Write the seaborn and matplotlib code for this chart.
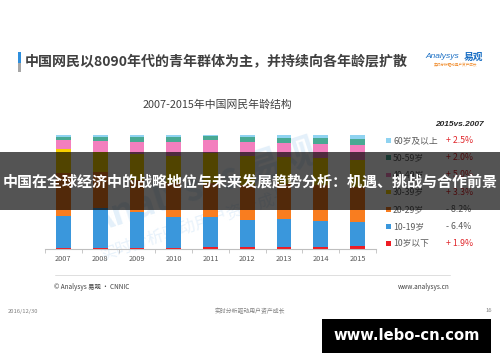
import pandas as pd
import seaborn as sns
import matplotlib.pyplot as plt
from matplotlib.patches import Rectangle

# CNNIC internet users by age group, share (%) per year
years = ['2007', '2008', '2009', '2010', '2011', '2012', '2013', '2014', '2015']
groups = ['10岁以下', '10-19岁', '20-29岁', '30-39岁', '40-49岁', '50-59岁', '60岁及以上']
under10 = [0.8, 0.6, 0.9, 1.1, 1.7, 1.7, 1.9, 1.7, 2.7]
age10_19 = [27.8, 35.2, 31.8, 27.3, 26.7, 24.0, 24.1, 22.8, 21.4]
age20_29 = [38.1, 31.5, 28.6, 29.8, 29.8, 30.4, 31.2, 31.5, 29.9]
age30_39 = [20.5, 17.6, 22.8, 23.4, 25.7, 25.3, 23.9, 23.8, 23.8]
age40_49 = [8.1, 9.6, 10.7, 12.6, 11.4, 12.4, 12.1, 12.3, 13.1]
age50_59 = [3.2, 3.6, 4.0, 3.9, 3.4, 4.4, 4.5, 5.0, 5.2]
age60_up = [1.4, 1.9, 1.9, 1.9, 1.3, 1.9, 2.4, 2.8, 3.9]
colors = ['#ee1c24', '#3a97dc', '#f97d1f', '#f6d000', '#f37fbe', '#49a993', '#8fd3f1']

df = pd.DataFrame(dict(zip(groups, [under10, age10_19, age20_29, age30_39,
                                    age40_49, age50_59, age60_up])), index=years)
share = df.div(df.sum(axis=1), axis=0) * 100
cum = share.cumsum(axis=1)

sns.set_theme(style='white')
plt.rcParams['font.family'] = ['Noto Sans CJK SC', 'DejaVu Sans']

W, H = 500, 362
fig = plt.figure(figsize=(5, 3.62), dpi=100)
fx = lambda px: px / W
fy = lambda py: 1 - py / H

ax = fig.add_axes([fx(45), fy(249), fx(376) - fx(45), fy(135) - fy(249)])

# faint watermark behind bars
ax.text(3.8, 55, 'Analysys 易观', color='#e4f0fa', fontsize=26, rotation=18,
        ha='center', va='center', fontweight='bold', zorder=0)
ax.text(3.6, 22, '实时分析驱动用户资产成长', color='#e8f2fb', fontsize=12, rotation=18,
        ha='center', va='center', zorder=0)

# stacked bars: draw cumulative totals from the top layer down
for g, c in reversed(list(zip(groups, colors))):
    sns.barplot(x=cum.index, y=cum[g].values, color=c, saturation=1,
                width=0.4, linewidth=0, errorbar=None, ax=ax)

ax.set_xlim(-0.5, len(years) - 0.5)
ax.set_ylim(0, 100)
for s in ['left', 'right', 'top']:
    ax.spines[s].set_visible(False)
ax.spines['bottom'].set_color('#bfbfbf')
ax.spines['bottom'].set_linewidth(0.8)
ax.set_yticks([])
ax.set_xlabel('')
ax.set_ylabel('')
ax.set_xticks(range(len(years)))
ax.set_xticks([i - 0.5 for i in range(len(years) + 1)], minor=True)
ax.tick_params(axis='x', which='major', length=0, labelsize=5.3,
               labelcolor='#595959', pad=4)
ax.tick_params(axis='x', which='minor', length=3, color='#bfbfbf', width=0.6,
               direction='out', bottom=True)

# header
fig.add_artist(Rectangle((fx(18), fy(63)), fx(2.5), fy(52) - fy(63),
                         color='#2f8fdd', lw=0))
fig.add_artist(Rectangle((fx(18), fy(72)), fx(2.5), fy(63) - fy(72),
                         color='#a6a6a6', lw=0))
fig.text(fx(25), fy(62), '中国网民以8090年代的青年群体为主，并持续向各年龄层扩散',
         fontsize=10.1, fontweight='bold', color='#404040', va='center')
fig.text(fx(425), fy(57), 'Analysys', fontsize=6, style='italic', color='#1a6fc4',
         va='center', family=['Liberation Sans', 'DejaVu Sans'])
fig.text(fx(464), fy(57), '易观', fontsize=7, fontweight='bold', color='#1a6fc4',
         va='center')
fig.text(fx(455), fy(65.5), '实时分析驱动用户资产成长', fontsize=2.6, color='#f08c2c',
         va='center', ha='center')

fig.text(fx(217), fy(105), '2007-2015年中国网民年龄结构', fontsize=7.8,
         color='#404040', ha='center', va='center')
fig.text(fx(459), fy(124), '2015vs.2007', fontsize=6, fontweight='bold',
         style='italic', color='#262626', ha='center', va='center',
         family=['Liberation Sans', 'DejaVu Sans'])

# legend with change column
change = (df.loc['2015'] - df.loc['2007']).round(1)
for i, (g, c) in enumerate(reversed(list(zip(groups, colors)))):
    y = 140.5 + i * 17.2
    fig.add_artist(Rectangle((fx(386), fy(y + 2.3)), fx(4.6), fy(y - 2.3) - fy(y + 2.3),
                             color=c, lw=0))
    fig.text(fx(393), fy(y), g, fontsize=6.3, color='#595959', va='center')
    d = change[g]
    txt = ('+ ' if d > 0 else '- ') + f'{abs(d):.1f}%'
    fig.text(fx(446), fy(y), txt, fontsize=6.3, va='center',
             color='#e0262b' if d > 0 else '#595959')

# footer
fig.add_artist(plt.Line2D([fx(55), fx(450)], [fy(275), fy(275)],
                          color='#d9d9d9', lw=0.6))
fig.text(fx(54), fy(287), '© Analysys 易观 · CNNIC', fontsize=4.6, color='#404040',
         va='center')
fig.text(fx(450), fy(287), 'www.analysys.cn', fontsize=4.6, color='#404040',
         va='center', ha='right')
fig.text(fx(8), fy(311), '2016/12/30', fontsize=4.2, color='#808080', va='center')
fig.text(fx(250), fy(311), '实时分析驱动用户资产成长', fontsize=4.2, color='#808080',
         va='center', ha='center')
fig.text(fx(492), fy(311), '16', fontsize=4.2, color='#808080', va='center', ha='right')

# overlay banner
fig.add_artist(Rectangle((0, fy(210)), 1, fy(152) - fy(210), color='black',
                         alpha=0.67, lw=0, zorder=10))
fig.text(0.5, fy(182), '中国在全球经济中的战略地位与未来发展趋势分析：机遇、挑战与合作前景',
         fontsize=10.8, fontweight='bold', color='white', ha='center', va='center',
         zorder=11)

# site badge
fig.add_artist(Rectangle((fx(322), fy(353)), fx(491) - fx(322), fy(319) - fy(353),
                         color='black', lw=0, zorder=10))
fig.text(fx(406.5), fy(336), 'www.lebo-cn.com', fontsize=10.6, fontweight='bold',
         color='white', ha='center', va='center', zorder=11,
         family=['DejaVu Sans'])

fig.savefig('out.png', dpi=100)
